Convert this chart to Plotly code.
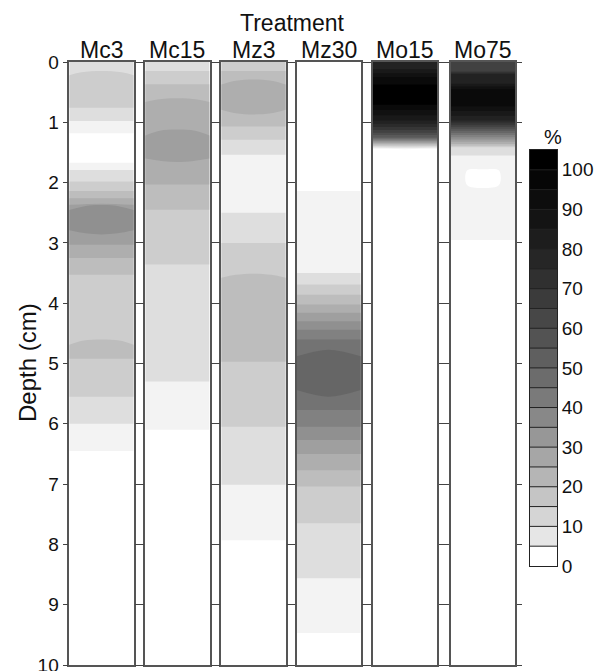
import plotly.graph_objects as go

W, H = 609, 671

treatments = ["Mc3", "Mc15", "Mz3", "Mz30", "Mo15", "Mo75"]

# Each row: depth (cm), value at column centre (%), value at column edges (%)
Mc3 = [
    [0.00, 12.5, 12.5], [0.13, 12.5, 12.5], [0.17, 17.5, 13.5], [0.30, 17.5, 17.5],
    [0.74, 17.5, 17.5], [0.78, 12.5, 12.5], [0.96, 12.5, 12.5], [1.00, 7.5, 7.5],
    [1.16, 7.5, 7.5], [1.20, 2.5, 2.5], [1.65, 2.5, 2.5], [1.69, 7.5, 7.5],
    [1.77, 7.5, 7.5], [1.81, 12.5, 12.5], [1.96, 12.5, 12.5], [2.00, 17.5, 17.5],
    [2.12, 17.5, 17.5], [2.16, 22.5, 22.5], [2.24, 22.5, 22.5], [2.28, 27.5, 27.5],
    [2.34, 27.5, 27.5], [2.38, 37.5, 31.0], [2.50, 37.5, 37.5], [2.74, 37.5, 37.5],
    [2.84, 37.5, 32.5], [2.88, 32.5, 32.5], [3.01, 32.5, 32.5], [3.05, 27.5, 27.5],
    [3.23, 27.5, 27.5], [3.27, 22.5, 22.5], [3.51, 22.5, 22.5], [3.55, 17.5, 17.5],
    [4.58, 17.5, 17.5], [4.62, 22.5, 18.0], [4.78, 22.5, 22.5], [4.90, 22.5, 22.5],
    [4.94, 17.5, 17.5], [5.53, 17.5, 17.5], [5.57, 12.5, 12.5], [5.98, 12.5, 12.5],
    [6.02, 7.5, 7.5], [6.43, 7.5, 7.5], [6.47, 2.5, 2.5], [10.0, 2.5, 2.5],
]
Mc15 = [
    [0.00, 12.5, 12.5], [0.13, 12.5, 12.5], [0.17, 17.5, 17.5], [0.35, 17.5, 17.5],
    [0.39, 22.5, 22.5], [0.58, 22.5, 22.5], [0.62, 27.5, 23.5], [0.74, 27.5, 27.5],
    [1.10, 27.5, 27.5], [1.14, 32.5, 28.0], [1.32, 32.5, 32.5], [1.56, 32.5, 32.5],
    [1.64, 32.5, 27.5], [1.68, 27.5, 27.5], [2.01, 27.5, 27.5], [2.05, 22.5, 22.5],
    [2.43, 22.5, 22.5], [2.47, 17.5, 17.5], [3.34, 17.5, 17.5], [3.38, 12.5, 12.5],
    [5.28, 12.5, 12.5], [5.32, 7.5, 7.5], [6.08, 7.5, 7.5], [6.12, 2.5, 2.5],
    [10.0, 2.5, 2.5],
]
Mz3 = [
    [0.00, 17.5, 17.5], [0.13, 17.5, 17.5], [0.17, 22.5, 22.5], [0.27, 22.5, 22.5],
    [0.31, 27.5, 23.0], [0.45, 27.5, 27.5], [0.72, 27.5, 27.5], [0.85, 27.5, 23.0],
    [0.89, 22.5, 22.5], [1.05, 22.5, 22.5], [1.09, 17.5, 17.5], [1.27, 17.5, 17.5],
    [1.31, 12.5, 12.5], [1.52, 12.5, 12.5], [1.56, 7.5, 7.5], [2.48, 7.5, 7.5],
    [2.52, 12.5, 12.5], [2.98, 12.5, 12.5], [3.02, 17.5, 17.5], [3.49, 17.5, 17.5],
    [3.53, 22.5, 18.0], [3.64, 22.5, 22.5], [4.95, 22.5, 22.5], [4.99, 17.5, 17.5],
    [6.03, 17.5, 17.5], [6.07, 12.5, 12.5], [6.99, 12.5, 12.5], [7.03, 7.5, 7.5],
    [7.91, 7.5, 7.5], [7.95, 2.5, 2.5], [10.0, 2.5, 2.5],
]
Mz30 = [
    [0.00, 2.5, 2.5], [2.12, 2.5, 2.5], [2.16, 7.5, 7.5], [3.48, 7.5, 7.5],
    [3.50, 10.0, 10.0], [3.69, 15.0, 15.0], [3.86, 20.0, 20.0], [4.02, 25.0, 25.0],
    [4.16, 30.0, 30.0], [4.30, 35.0, 35.0], [4.44, 40.0, 40.0], [4.60, 45.0, 45.0],
    [4.77, 50.0, 47.5], [4.88, 52.5, 50.0], [5.15, 53.5, 51.5], [5.44, 52.5, 50.0],
    [5.55, 50.0, 47.5], [5.77, 45.0, 45.0], [6.05, 40.0, 40.0], [6.27, 35.0, 35.0],
    [6.50, 30.0, 30.0], [6.77, 25.0, 25.0], [7.04, 20.0, 20.0], [7.65, 15.0, 15.0],
    [8.56, 10.0, 10.0], [9.47, 5.0, 5.0], [9.60, 2.5, 2.5], [10.0, 2.5, 2.5],
]
Mo15 = [
    [0.00, 80.0, 80.0], [0.12, 85.0, 85.0], [0.25, 95.0, 95.0], [0.40, 101.0, 101.0],
    [0.70, 100.5, 100.5], [0.97, 85.0, 85.0], [1.15, 68.0, 68.0], [1.25, 55.0, 55.0],
    [1.36, 25.0, 25.0], [1.44, 5.5, 4.5], [1.48, 2.5, 2.5], [10.0, 2.5, 2.5],
]
Mo75 = [
    [0.00, 66.0, 66.0], [0.15, 68.0, 68.0], [0.20, 80.0, 80.0], [0.35, 84.0, 84.0],
    [0.45, 95.0, 95.0], [0.72, 96.0, 96.0], [0.97, 80.0, 80.0], [1.19, 48.0, 48.0],
    [1.36, 25.0, 25.0], [1.42, 14.0, 14.0], [1.44, 12.5, 12.5], [1.53, 12.5, 12.5],
    [1.57, 7.5, 7.5], [1.76, 7.5, 7.5], [1.80, 2.5, 7.5], [2.04, 2.5, 7.5],
    [2.14, 7.5, 7.5], [2.93, 7.5, 7.5], [2.97, 2.5, 2.5], [10.0, 2.5, 2.5],
]
profiles = [Mc3, Mc15, Mz3, Mz30, Mo15, Mo75]

# colour-key bands (lower edge of each 5 % band) and its tick labels
key_bands = [0, 5, 10, 15, 20, 25, 30, 35, 40, 45, 50, 55, 60, 65, 70, 75, 80, 85, 90, 95, 100]
key_ticks = [0, 10, 20, 30, 40, 50, 60, 70, 80, 90, 100]

# style: grey level of each 5 % band (0-5, 5-10, ..., 95-100, >100)
band_grey = [255, 230, 213, 197, 181, 166, 151, 136, 122, 108,
             95, 83, 71, 59, 48, 38, 29, 20, 13, 6, 0]
cscale = [[0.0, "rgb(255,255,255)"]]
for k in range(20):
    g = band_grey[k]
    cscale.append([(5 * k + 2.5) / 100.0, f"rgb({g},{g},{g})"])
cscale.append([1.0, "rgb(0,0,0)"])

contours = dict(start=5, end=100, size=5, coloring="fill", showlines=False)

# layout in pixels; OFF compensates the page's default 8 px body margin
OFF = 8
col_left = [69.3, 145.3, 221.3, 296.7, 373.0, 451.0]
col_right = [133.7, 209.5, 285.7, 360.7, 437.0, 515.0]
y_top_px, y_bot_px = 62.0, 665.0
key_left, key_right, key_top, key_bot = 530.0, 557.0, 150.0, 566.0

def px_x(v):
    return (v - OFF) / W

def px_y(v):
    return 1 - (v - OFF) / H

FONT = "Liberation Sans, Arial, Helvetica, sans-serif"
INK = "#111111"
FRAME = "#555555"

fig = go.Figure()
for i, prof in enumerate(profiles):
    depth = [r[0] for r in prof]
    z = [[r[2], r[1], r[2]] for r in prof]
    fig.add_trace(go.Contour(
        x=[0, 0.5, 1], y=depth, z=z,
        autocontour=False, contours=contours,
        colorscale=cscale, showscale=False,
        line=dict(width=0, smoothing=1.0),
        xaxis="x" if i == 0 else f"x{i+1}",
        yaxis="y" if i == 0 else f"y{i+1}",
        hoverinfo="skip",
    ))

# colour key: one cell per band, separated by thin dark lines
key_edges = key_bands + [key_bands[-1] + 5]
fig.add_trace(go.Heatmap(
    x=[0, 1], y=key_edges, z=[[b + 2.5] for b in key_bands],
    zmin=0, zmax=100, colorscale=cscale, showscale=False,
    xaxis="x7", yaxis="y7", hoverinfo="skip",
))
sep_x, sep_y = [], []
for b in key_bands[1:]:
    sep_x += [0, 1, None]
    sep_y += [b, b, None]
fig.add_trace(go.Scatter(
    x=sep_x, y=sep_y, mode="lines", line=dict(color="#222222", width=1),
    xaxis="x7", yaxis="y7", hoverinfo="skip", showlegend=False,
))

layout = dict(
    width=W, height=H,
    margin=dict(l=0, r=0, t=0, b=0, pad=0),
    paper_bgcolor="white", plot_bgcolor="white",
    showlegend=False,
    font=dict(family=FONT, color=INK),
)
for i in range(6):
    xa = "xaxis" if i == 0 else f"xaxis{i+1}"
    ya = "yaxis" if i == 0 else f"yaxis{i+1}"
    layout[xa] = dict(
        domain=[px_x(col_left[i]), px_x(col_right[i])], range=[0, 1],
        showline=True, mirror=True, linecolor=FRAME, linewidth=1.5,
        showticklabels=False, ticks="", showgrid=False, zeroline=False,
        anchor="y" if i == 0 else f"y{i+1}", fixedrange=True, automargin=False,
    )
    layout[ya] = dict(
        domain=[px_y(y_bot_px), px_y(y_top_px)], range=[10, 0],
        showline=True, mirror="ticks", linecolor=FRAME, linewidth=1.5,
        ticks="outside", ticklen=5, tickwidth=1.2, tickcolor="#444444",
        tickmode="linear", tick0=0, dtick=1,
        showticklabels=(i == 0), tickfont=dict(size=19, color=INK),
        showgrid=False, zeroline=False,
        anchor="x" if i == 0 else f"x{i+1}", fixedrange=True, automargin=False,
    )
layout["xaxis7"] = dict(
    domain=[px_x(key_left), px_x(key_right)], range=[0, 1],
    showline=True, mirror=True, linecolor="#222222", linewidth=1,
    showticklabels=False, ticks="", showgrid=False, zeroline=False,
    anchor="y7", fixedrange=True, automargin=False,
)
layout["yaxis7"] = dict(
    domain=[px_y(key_bot), px_y(key_top)], range=[0, 105],
    showline=True, mirror=True, linecolor="#222222", linewidth=1,
    side="right", tickmode="array", tickvals=key_ticks, ticktext=[str(t) for t in key_ticks],
    ticks="", tickfont=dict(size=19, color=INK),
    showgrid=False, zeroline=False,
    anchor="x7", fixedrange=True, automargin=False,
)

annotations = []
for i, name in enumerate(treatments):
    annotations.append(dict(
        text=name, x=px_x((col_left[i] + col_right[i]) / 2), y=px_y(50),
        xref="paper", yref="paper", xanchor="center", yanchor="middle",
        showarrow=False, font=dict(size=23, color=INK),
    ))
annotations.append(dict(
    text="Treatment", x=px_x(292), y=px_y(23), xref="paper", yref="paper",
    xanchor="center", yanchor="middle", showarrow=False, font=dict(size=23, color=INK),
))
annotations.append(dict(
    text="Depth (cm)", x=px_x(27), y=px_y(363), xref="paper", yref="paper",
    xanchor="center", yanchor="middle", textangle=-90, showarrow=False,
    font=dict(size=24, color=INK),
))
annotations.append(dict(
    text="%", x=px_x(553), y=px_y(137), xref="paper", yref="paper",
    xanchor="center", yanchor="middle", showarrow=False, font=dict(size=20, color=INK),
))
layout["annotations"] = annotations

fig.update_layout(**layout)
fig.write_html("out.html")
